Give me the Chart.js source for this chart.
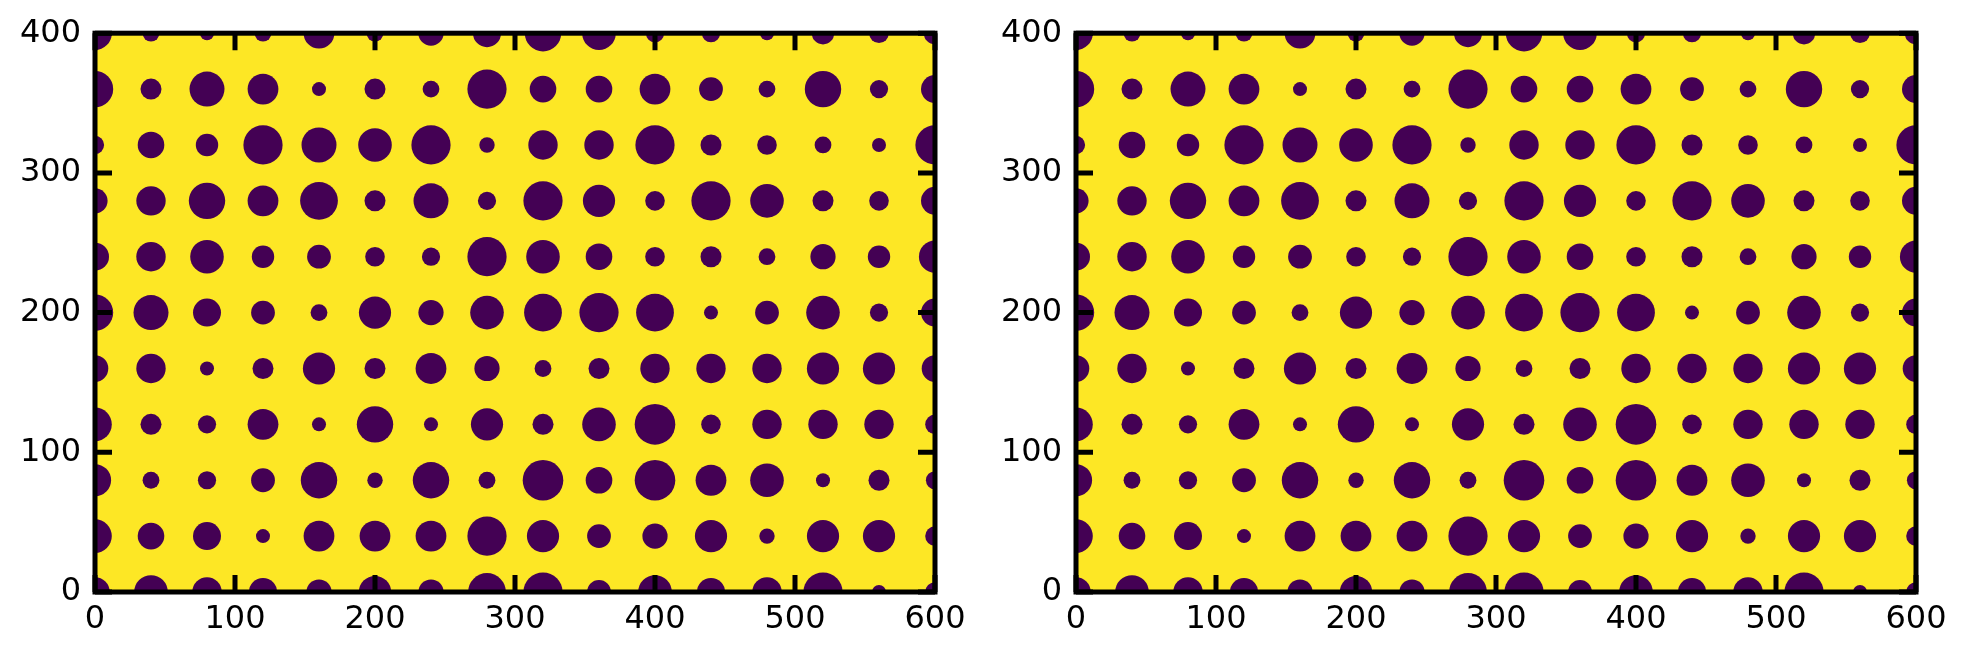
<!DOCTYPE html>
<html lang="en">
<head>
<meta charset="UTF-8">
<title>Circles</title>
<script src="https://cdn.jsdelivr.net/npm/chart.js"></script>
<style>
    body { margin: 0; background: #fff; }
    .panel { position: absolute; top: 0; }
</style>
</head>
<body>

<canvas id="leftChart" class="panel" width="984" height="656" style="left:0px"></canvas>
<canvas id="rightChart" class="panel" width="984" height="656" style="left:984px"></canvas>

<script>
// grid of circle centres (data units)
var xCenters = [0, 40, 80, 120, 160, 200, 240, 280, 320, 360, 400, 440, 480, 520, 560, 600];
var yCenters = [400, 360, 320, 280, 240, 200, 160, 120, 80, 40, 0];

// circle radius per row (top row first), in data units
var radii = [
    [12, 6, 5, 6, 11, 6, 9, 10, 13, 12, 6.5, 6.5, 5, 8, 7, 8],
    [13, 7.5, 12.5, 11, 5, 7.5, 6, 14, 9.5, 9.5, 11, 8.5, 6, 13, 6.5, 10],
    [6.5, 9.5, 8, 14, 12.5, 12, 14, 5.5, 10.5, 10.5, 14, 7.5, 7, 6, 5, 14],
    [9, 10.5, 13, 11, 13.5, 7.5, 12.5, 6.5, 14, 11.5, 7, 14, 12, 7.5, 7, 10],
    [10, 10.5, 12, 8, 8.5, 7, 6.5, 14, 12, 9.5, 7, 7.5, 6, 9, 8, 11.5],
    [13, 12.5, 10, 8.5, 6, 11.5, 9, 12, 13.5, 14, 13.5, 5, 8.5, 12, 6.5, 10],
    [9.5, 10.5, 5, 7.5, 11.5, 7.5, 11, 9, 6, 7.5, 10.5, 10.5, 10.5, 11.5, 11.5, 9.5],
    [12, 7.5, 6.5, 11, 5, 13, 5, 11.5, 7.5, 12, 14.5, 7, 10.5, 10.5, 10.5, 7],
    [11.5, 6, 6.5, 8.5, 13, 5.5, 13, 6, 14.5, 9.5, 14.5, 11, 12, 5, 7.5, 6.5],
    [12, 9.5, 10, 5, 11, 11, 11, 14, 11.5, 8.5, 9, 11.5, 5.5, 11.5, 11.5, 7],
    [10.5, 12, 10.5, 10, 9, 11.5, 9, 13.5, 14, 8.5, 12, 10, 10.5, 14, 5, 7]
];

var xTicks = [0, 100, 200, 300, 400, 500, 600];
var yTicks = [0, 100, 200, 300, 400];

var bgColor = '#fde725';
var dotColor = '#440154';

function buildPoints() {
    var pts = [];
    yCenters.forEach(function (y, i) {
        xCenters.forEach(function (x, j) {
            pts.push({ x: x, y: y, size: radii[i][j] });
        });
    });
    return pts;
}

// yellow image background + black frame with inward ticks on all four sides
var framePlugin = {
    id: 'frame',
    beforeDatasetsDraw: function (chart) {
        var a = chart.chartArea, ctx = chart.ctx;
        ctx.save();
        ctx.fillStyle = bgColor;
        ctx.fillRect(a.left, a.top, a.right - a.left, a.bottom - a.top);
        ctx.restore();
    },
    afterDraw: function (chart) {
        var a = chart.chartArea, ctx = chart.ctx;
        var sx = chart.scales.x, sy = chart.scales.y;
        var len = 17;
        ctx.save();
        ctx.strokeStyle = '#000';
        ctx.lineWidth = 5;
        ctx.lineCap = 'butt';
        xTicks.forEach(function (v) {
            var px = sx.getPixelForValue(v);
            ctx.beginPath();
            ctx.moveTo(px, a.bottom); ctx.lineTo(px, a.bottom - len);
            ctx.moveTo(px, a.top); ctx.lineTo(px, a.top + len);
            ctx.stroke();
        });
        yTicks.forEach(function (v) {
            var py = sy.getPixelForValue(v);
            ctx.beginPath();
            ctx.moveTo(a.left, py); ctx.lineTo(a.left + len, py);
            ctx.moveTo(a.right, py); ctx.lineTo(a.right - len, py);
            ctx.stroke();
        });
        ctx.lineJoin = 'miter';
        ctx.strokeRect(a.left, a.top, a.right - a.left, a.bottom - a.top);
        ctx.restore();
    }
};

function makeChart(id, leftWidth, rightPad) {
    var ctx = document.getElementById(id).getContext('2d');
    var chart = new Chart(ctx, {
        type: 'bubble',
        data: {
            datasets: [{
                data: buildPoints(),
                backgroundColor: dotColor,
                borderWidth: 0,
                clip: 0
            }]
        },
        options: {
            responsive: false,
            animation: false,
            devicePixelRatio: 1,
            events: [],
            layout: { padding: { top: 32, right: rightPad, left: 0, bottom: 0 } },
            plugins: { legend: { display: false }, tooltip: { enabled: false } },
            scales: {
                x: {
                    type: 'linear', min: 0, max: 600,
                    grid: { display: false, drawTicks: false },
                    border: { display: false },
                    ticks: {
                        stepSize: 100, padding: 8, color: '#000',
                        font: { family: 'DejaVu Sans', size: 32 }
                    },
                    afterFit: function (s) { s.height = 64; }
                },
                y: {
                    type: 'linear', min: 0, max: 400,
                    grid: { display: false, drawTicks: false },
                    border: { display: false },
                    ticks: {
                        stepSize: 100, padding: 14, color: '#000',
                        font: { family: 'DejaVu Sans', size: 32 }
                    },
                    afterFit: function (s) { s.width = leftWidth; }
                }
            }
        },
        plugins: [framePlugin]
    });

    // bubble radius is in pixels: convert the data-unit radius with the x scale
    var sx = chart.scales.x;
    var k = Math.abs(sx.getPixelForValue(1) - sx.getPixelForValue(0));
    chart.data.datasets[0].data.forEach(function (p) {
        p.r = p.size * k;
    });
    chart.update();
    return chart;
}

makeChart('leftChart', 95, 49);
makeChart('rightChart', 92, 52);
</script>

</body>
</html>
